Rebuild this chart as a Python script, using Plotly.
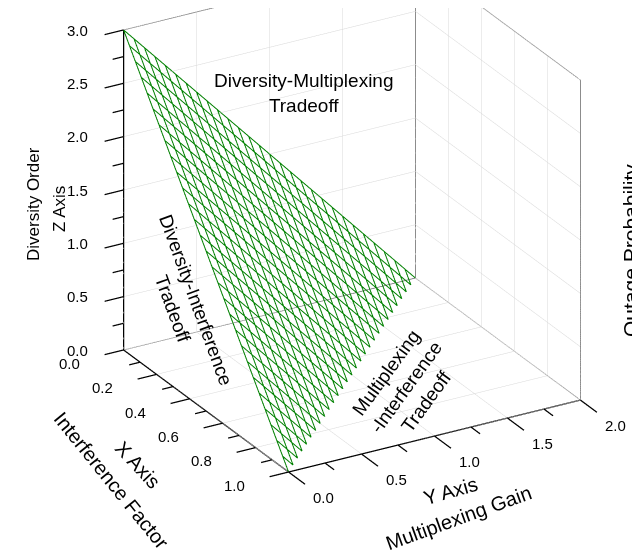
import numpy as np
import plotly.graph_objects as go

# ---- data ----
corner_x = [0.0, 1.0, 0.0]   # top vertex, front vertex, right vertex
corner_y = [0.0, 0.0, 2.0]
corner_z = [3.0, 0.0, 0.0]

x_ticks = [0.0, 0.2, 0.4, 0.6, 0.8, 1.0]
y_ticks = [0.0, 0.5, 1.0, 1.5, 2.0]
z_ticks = [0.0, 0.5, 1.0, 1.5, 2.0, 2.5, 3.0]
x_minor = [0.1, 0.3, 0.5, 0.7, 0.9]
y_minor = [0.25, 0.75, 1.25, 1.75]
z_minor = [0.25, 0.75, 1.25, 1.75, 2.25, 2.75]
x_range = [0.0, 1.0]
y_range = [0.0, 2.0]
z_range = [0.0, 3.0]

N_MESH = 28   # mesh subdivisions of the surface

FONT = 'Liberation Sans, Arial'

A = np.array([corner_x[0], corner_y[0], corner_z[0]])
B = np.array([corner_x[1], corner_y[1], corner_z[1]])
C = np.array([corner_x[2], corner_y[2], corner_z[2]])

def seg(p, q, X, Y, Z):
    X.extend([p[0], q[0], None]); Y.extend([p[1], q[1], None]); Z.extend([p[2], q[2], None])

def lines_trace(X, Y, Z, color, width):
    return go.Scatter3d(x=X, y=Y, z=Z, mode='lines', line=dict(color=color, width=width),
                        hoverinfo='skip', showlegend=False)

x0, x1 = x_range; y0, y1 = y_range; z0, z1 = z_range

fig = go.Figure()

# grid lines on back walls and floor
gx, gy, gz = [], [], []
for v in y_ticks:                       # wall x = x0
    seg((x0, v, z0), (x0, v, z1), gx, gy, gz)
for v in z_ticks:
    seg((x0, y0, v), (x0, y1, v), gx, gy, gz)
    seg((x0, y1, v), (x1, y1, v), gx, gy, gz)   # wall y = y1
for v in x_ticks:
    seg((v, y1, z0), (v, y1, z1), gx, gy, gz)
    seg((v, y0, z0), (v, y1, z0), gx, gy, gz)   # floor
for v in y_ticks:
    seg((x0, v, z0), (x1, v, z0), gx, gy, gz)
fig.add_trace(lines_trace(gx, gy, gz, '#d9d9d9', 1))

# back box edges
ex, ey, ez = [], [], []
for p, q in [((x0, y0, z1), (x0, y1, z1)), ((x0, y1, z1), (x1, y1, z1)),
             ((x0, y1, z0), (x0, y1, z1)), ((x1, y1, z0), (x1, y1, z1)),
             ((x0, y0, z0), (x0, y1, z0)), ((x0, y1, z0), (x1, y1, z0))]:
    seg(p, q, ex, ey, ez)
fig.add_trace(lines_trace(ex, ey, ez, '#666666', 1.5))

# mesh surface
xs, ys, zs = [], [], []
for t in np.linspace(0, 1, N_MESH + 1):
    p = A + t * (C - A)
    seg(p, p + (1 - t) * (B - A), xs, ys, zs)
    p = A + t * (B - A)
    seg(p, p + (1 - t) * (C - A), xs, ys, zs)
fig.add_trace(lines_trace(xs, ys, zs, '#008000', 2))

# axis lines and tick marks
tx, ty, tz = [], [], []
seg((x0, y0, z0), (x0, y0, z1), tx, ty, tz)
seg((x0, y0, z0), (x1, y0, z0), tx, ty, tz)
seg((x1, y0, z0), (x1, y1, z0), tx, ty, tz)
LMAJ_Y, LMIN_Y = 0.13, 0.075    # ticks pointing along -y (z and x axes)
LMAJ_X, LMIN_X = 0.10, 0.055    # ticks pointing along +x (y axis)
for v in z_ticks:
    seg((x0, y0, v), (x0, y0 - LMAJ_Y, v), tx, ty, tz)
for v in z_minor:
    seg((x0, y0, v), (x0, y0 - LMIN_Y, v), tx, ty, tz)
for v in x_ticks:
    seg((v, y0, z0), (v, y0 - LMAJ_Y, z0), tx, ty, tz)
for v in x_minor:
    seg((v, y0, z0), (v, y0 - LMIN_Y, z0), tx, ty, tz)
for v in y_ticks:
    seg((x1, v, z0), (x1 + LMAJ_X, v, z0), tx, ty, tz)
for v in y_minor:
    seg((x1, v, z0), (x1 + LMIN_X, v, z0), tx, ty, tz)
fig.add_trace(lines_trace(tx, ty, tz, 'black', 2.5))

# extended scene range so that labels outside the box stay visible
XR = [x0, x1 + 0.25]
YR = [y0 - 0.45, y1]
ZR = [z0, z1]

def ax(rng):
    return dict(range=rng, showticklabels=False, showbackground=False, showgrid=False,
                showline=False, ticks='', showspikes=False, zeroline=False,
                title=dict(text=''))

tickfont = dict(family=FONT, size=15, color='black')
scene_ann = []
for v in z_ticks:
    scene_ann.append(dict(x=x0, y=y0 - 0.23, z=v, text='%.1f' % v, showarrow=False,
                          xanchor='right', yanchor='middle', yshift=8, font=tickfont))
for v in x_ticks:
    scene_ann.append(dict(x=v, y=y0 - 0.37, z=z0, text='%.1f' % v, showarrow=False,
                          xanchor='center', yanchor='middle', font=tickfont))
for v in y_ticks:
    scene_ann.append(dict(x=x1 + 0.21, y=v, z=z0, text='%.1f' % v, showarrow=False,
                          xanchor='center', yanchor='middle', font=tickfont))

def pa(text, px, py, angle=0, size=19, xanchor='center'):
    return dict(text=text, x=px / 640, y=1 - py / 550, xref='paper', yref='paper',
                showarrow=False, textangle=angle, xanchor=xanchor, yanchor='middle',
                font=dict(family=FONT, size=size, color='black'))

paper_ann = [
    pa('Diversity-Multiplexing<br>Tradeoff', 296, 85),
    pa('Diversity-Interference<br>Tradeoff', 176, 296, 70),
    pa('Multiplexing<br>-Interference<br>Tradeoff', 398, 379, -54),
    pa('X Axis', 130, 457, 47, 20),
    pa('Interference Factor', 103, 472, 51, 20),
    pa('Y Axis', 442, 483, -16, 20),
    pa('Multiplexing Gain', 450, 510, -20, 20),
    pa('Diversity Order', 25, 196, -90, 17),
    pa('Z Axis', 51, 201, -90, 17),
    pa('Outage Probability', 622, 243, -90, 21),
]

# orthographic view fitted to the reference (normalized length per data unit)
ux, uy, uz = 1.2, 0.6127, 0.429
box_c = np.array([(0.5 * (x0 + x1) - 0.5 * sum(XR)) * ux,
                  (0.5 * (y0 + y1) - 0.5 * sum(YR)) * uy,
                  (0.5 * (z0 + z1) - 0.5 * sum(ZR)) * uz])
cen = box_c + np.array([0.0212 + 0.0267, -0.1466 + 0.0182, -0.1939 - 0.0296])
eye = cen + 2.0 * np.array([0.783, -0.452, 0.427])

fig.update_layout(
    width=640, height=550,
    margin=dict(l=0, r=0, t=0, b=0),
    paper_bgcolor='white',
    font=dict(family=FONT, color='black'),
    annotations=paper_ann,
    scene=dict(
        domain=dict(x=[0, 1], y=[0, 1]),
        bgcolor='white',
        xaxis=ax(XR), yaxis=ax(YR), zaxis=ax(ZR),
        aspectmode='manual',
        aspectratio=dict(x=(XR[1] - XR[0]) * ux, y=(YR[1] - YR[0]) * uy, z=(ZR[1] - ZR[0]) * uz),
        camera=dict(eye=dict(x=eye[0], y=eye[1], z=eye[2]),
                    center=dict(x=cen[0], y=cen[1], z=cen[2]), up=dict(x=0, y=0, z=1),
                    projection=dict(type='orthographic')),
        annotations=scene_ann,
    ),
)

fig.write_html("out.html")
